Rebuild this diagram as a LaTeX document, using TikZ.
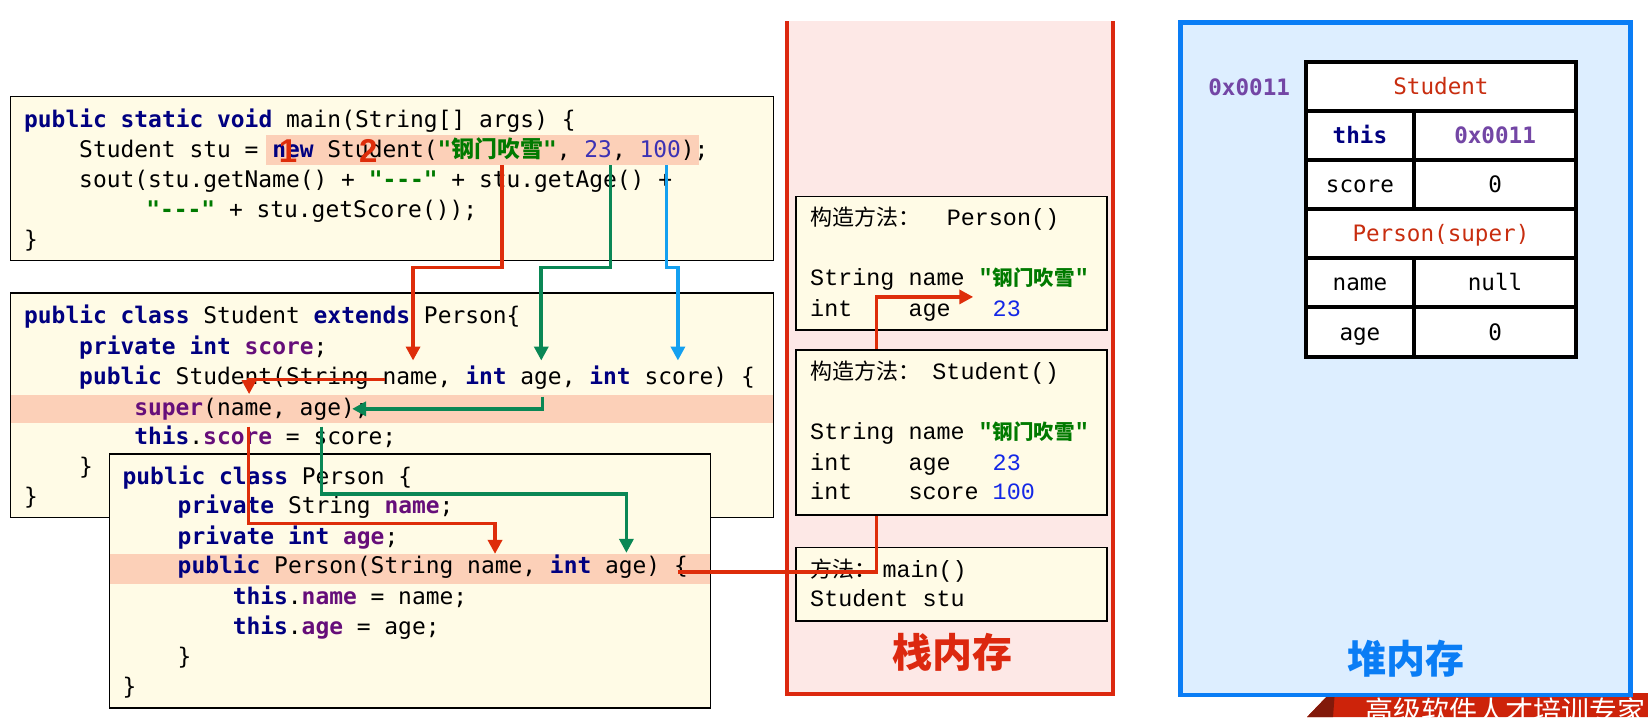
\documentclass[tikz,border=0pt]{standalone}
\usepackage{fontspec}
\usetikzlibrary{arrows.meta}
\newfontfamily\cjk{Noto Sans CJK SC}
\newfontfamily\codeff{DejaVu Sans Mono}[Ligatures=TeXOff]
\newfontfamily\stackff{Liberation Mono}[Ligatures=TeXOff]
\newfontfamily\numff{Liberation Sans}
\definecolor{codebg}{RGB}{255,251,230}
\definecolor{hl}{RGB}{252,208,184}
\definecolor{kwnavy}{RGB}{0,0,128}
\definecolor{fldpurple}{RGB}{102,14,122}
\definecolor{strgreen}{RGB}{0,122,0}
\definecolor{numpurple}{RGB}{60,50,180}
\definecolor{stnum}{RGB}{20,40,230}
\definecolor{stackpink}{RGB}{253,232,230}
\definecolor{stackred}{RGB}{220,40,15}
\definecolor{heapbg}{RGB}{221,238,255}
\definecolor{heapblue}{RGB}{10,125,245}
\definecolor{tred}{RGB}{200,45,15}
\definecolor{addrpurple}{RGB}{115,70,165}
\definecolor{arrred}{RGB}{222,45,10}
\definecolor{arrgreen}{RGB}{10,135,85}
\definecolor{arrblue}{RGB}{20,160,240}
\definecolor{bannerred}{RGB}{205,35,10}
\definecolor{bannerdark}{RGB}{130,25,10}
\newcommand\kw[1]{\textcolor{kwnavy}{\bfseries #1}}
\newcommand\fld[1]{\textcolor{fldpurple}{\bfseries #1}}
\newcommand\jstr[1]{\textcolor{strgreen}{\bfseries #1}}
\newcommand\jnum[1]{\textcolor{numpurple}{#1}}
\newcommand\snum[1]{\textcolor{stnum}{#1}}
\newcommand\zhf{\cjk\fontsize{22}{22}\selectfont}
\newcommand\zhname{\textcolor{strgreen}{\bfseries"{\cjk\bfseries\fontsize{20.5}{22}\selectfont 钢门吹雪}"}}
\newcommand\codefont{\codeff\fontsize{22.9}{27}\selectfont}
\newcommand\stackfont{\stackff\fontsize{23.4}{27}\selectfont}
\newcommand\tablefont{\codeff\fontsize{22.6}{27}\selectfont}
\begin{document}
\begin{tikzpicture}[x=1.05102pt,y=-1.05102pt,
  code/.style={anchor=base west, inner sep=0pt, font=\codefont},
  stk/.style={anchor=base west, inner sep=0pt, font=\stackfont},
  stframe/.style={draw=black, line width=1.8pt, fill=codebg},
  cell/.style={inner sep=0pt, font=\tablefont, text height=16.4pt, text depth=0pt, anchor=center},
  arr/.style={line width=3.6pt, -{Triangle[length=14pt,width=14pt]}},
  bignum/.style={inner sep=0pt, text=arrred, font=\numff\bfseries\fontsize{33}{33}\selectfont},
]
\clip (0,0) rectangle (1568,682.2);
\fill[white] (0,0) rectangle (1568,682.2);

% ---------- main method box ----------
\fill[codebg] (10,92) rectangle (736,248);
\fill[hl] (253,128.5) rectangle (665,157);
\draw[line width=1.6pt] (10,92) rectangle (736,248);
\node[code] (m1) at (22.8,121) {\kw{public static void} main(String[] args) \{};
\node[code] (m2) at (75.2,149.7) {Student stu = \kw{new} Student(\jstr{"{\cjk 钢门吹雪}"}, \jnum{23}, \jnum{100});};
\node[code] (m3) at (75.2,178.3) {sout(stu.getName() + \jstr{"---"} + stu.getAge() +};
\node[code] (m4) at (139,206.8) {\jstr{"---"} + stu.getScore());};
\node[code] (m5) at (22.8,235.4) {\}};
\node[bignum] (one) at (274,143.5) {1};
\node[bignum] (two) at (350.5,143.5) {2};

% ---------- Student class box ----------
\fill[codebg] (10,279) rectangle (736,492.5);
\fill[hl] (10,375.8) rectangle (736,402.8);
\draw[line width=1.6pt] (10,279) rectangle (736,492.5);
\node[code] (s1) at (22.8,308) {\kw{public class} Student \kw{extends} Person\{};
\node[code] (s2) at (75.2,337) {\kw{private int} \fld{score};};
\node[code] (s3) at (75.2,365.4) {\kw{public} Student(String name, \kw{int} age, \kw{int} score) \{};
\node[code] (s4) at (127.6,395) {\fld{super}(name, age);};
\node[code] (s5) at (127.6,422.5) {\kw{this}.\fld{score} = score;};
\node[code] (s6) at (75.2,451) {\}};
\node[code] (s7) at (22.8,479.6) {\}};

% ---------- Person class box ----------
\fill[codebg] (104,432) rectangle (676,673.5);
\fill[hl] (104,527.4) rectangle (676,556);
\draw[line width=1.6pt] (104,432) rectangle (676,673.5);
\node[code] (p1) at (116.5,460.5) {\kw{public class} Person \{};
\node[code] (p2) at (168.9,489) {\kw{private} String \fld{name};};
\node[code] (p3) at (168.9,517.6) {\kw{private int} \fld{age};};
\node[code] (p4) at (168.9,546) {\kw{public} Person(String name, \kw{int} age) \{};
\node[code] (p5) at (221.3,574.7) {\kw{this}.\fld{name} = name;};
\node[code] (p6) at (221.3,603.3) {\kw{this}.\fld{age} = age;};
\node[code] (p7) at (168.9,631.8) {\}};
\node[code] (p8) at (116.5,660.4) {\}};

% ---------- stack memory ----------
\fill[stackpink] (749,20) rectangle (1059,660);
\draw[stackred, line width=4pt] (749,20) -- (749,660) -- (1059,660) -- (1059,20);
\draw[stframe] (757,187) rectangle (1053.5,314);
\node[stk] (f1a) at (770.7,214.7) {\makebox[136.6pt][l]{\zhf 构造方法：}Person()};
\node[stk] (f1b) at (770.7,272) {String name \zhname};
\node[stk] (f1c) at (770.7,301.6) {\makebox[98.3pt][l]{int}\makebox[84.2pt][l]{age}\snum{23}};
\draw[stframe] (757,521) rectangle (1053.5,591);
\node[stk] (f3a) at (770.7,549) {\makebox[72.3pt][l]{\zhf 方法：}main()};
\node[stk] (f3b) at (770.7,577) {Student stu};
% arrow from Person() constructor to its stack frame (hidden behind Student frame)
\coordinate (r4a) at (645,544);
\coordinate (r4b) at (834,282.5);
\coordinate (r4c) at (926,282.5);
\draw[arr, arrred] (r4a) -| (r4b) -- (r4c);
\draw[stframe] (757,333) rectangle (1053.5,490);
\node[stk] (f2a) at (770.7,361) {\makebox[122.2pt][l]{\zhf 构造方法：}Student()};
\node[stk] (f2b) at (770.7,418) {String name \zhname};
\node[stk] (f2c) at (770.7,448) {\makebox[98.3pt][l]{int}\makebox[84.2pt][l]{age}\snum{23}};
\node[stk] (f2d) at (770.7,475) {\makebox[98.3pt][l]{int}\makebox[84.2pt][l]{score}\snum{100}};
\node[inner sep=0pt, text=stackred, font=\cjk\bfseries\fontsize{40}{40}\selectfont] (stacklabel) at (906,621) {栈内存};

% ---------- heap memory ----------
\fill[bannerred] (1265.5,659.4) -- (1568,659.4) -- (1568,682.2) -- (1243.6,682.2) -- cycle;
\fill[bannerdark] (1243.6,682.2) -- (1265.5,659.4) -- (1270,659.4) -- (1268.3,682.2) -- cycle;
\node[anchor=base west, inner sep=0pt, text=white, font=\cjk\fontsize{28}{28}\selectfont] (banner) at (1298.8,686.3) {高级软件人才培训专家};
\draw[heapblue, line width=4.7pt, fill=heapbg] (1123.4,21.6) rectangle (1551.6,661.3);
\fill[white] (1242.4,58.7) rectangle (1499.6,339.4);
\draw[line width=4pt] (1242.4,58.7) rectangle (1499.6,339.4);
\foreach \yy in {105.3,152.2,198.9,245.5,292.1} \draw[line width=4pt] (1242.4,\yy) -- (1499.6,\yy);
\draw[line width=4pt] (1345.4,105.3) -- (1345.4,198.9);
\draw[line width=4pt] (1345.4,245.5) -- (1345.4,339.4);
\node[cell, text=tred] (hStudent) at (1371,82) {Student};
\node[cell, text=kwnavy, font=\tablefont\bfseries] (hthis) at (1293.9,128.75) {this};
\node[cell, text=addrpurple, font=\tablefont\bfseries] (hthisv) at (1422.5,128.75) {0x0011};
\node[cell] (hscore) at (1293.9,175.5) {score};
\node[cell] (hscorev) at (1422.5,175.5) {0};
\node[cell, text=tred] (hPerson) at (1371,222.2) {Person(super)};
\node[cell] (hname) at (1293.9,268.8) {name};
\node[cell] (hnamev) at (1422.5,268.8) {null};
\node[cell] (hage) at (1293.9,315.75) {age};
\node[cell] (hagev) at (1422.5,315.75) {0};
\node[cell, text=addrpurple, font=\tablefont\bfseries] (addr) at (1188.5,83) {0x0011};
\node[inner sep=0pt, text=heapblue, font=\cjk\bfseries\fontsize{39}{39}\selectfont] (heaplabel) at (1337.5,627) {堆内存};

% ---------- argument-passing arrows ----------
\coordinate (r1a) at (477.5,157);
\coordinate (r1b) at (393,254.7);
\coordinate (r1c) at (393,343);
\draw[arr, arrred] (r1a) |- (r1b) -- (r1c);
\coordinate (g1a) at (581,157);
\coordinate (g1b) at (515,254.7);
\coordinate (g1c) at (515,343);
\draw[arr, arrgreen] (g1a) |- (g1b) -- (g1c);
\coordinate (b1a) at (634,157);
\coordinate (b1b) at (645,254.7);
\coordinate (b1c) at (645,343);
\draw[arr, arrblue] (b1a) |- (b1b) -- (b1c);
\coordinate (r2a) at (366,361);
\coordinate (r2b) at (237,361);
\coordinate (r2c) at (237,375);
\draw[arr, arrred] (r2a) -- (r2b) -- (r2c);
\coordinate (g2a) at (516,377.4);
\coordinate (g2b) at (516,389);
\coordinate (g2c) at (335,389);
\draw[arr, arrgreen] (g2a) -- (g2b) -- (g2c);
\coordinate (r3a) at (236.5,406);
\coordinate (r3b) at (471,498);
\coordinate (r3c) at (471,527);
\draw[arr, arrred] (r3a) |- (r3b) -- (r3c);
\coordinate (g3a) at (306,406);
\coordinate (g3b) at (596,470);
\coordinate (g3c) at (596,526);
\draw[arr, arrgreen] (g3a) |- (g3b) -- (g3c);
\end{tikzpicture}
\end{document}
